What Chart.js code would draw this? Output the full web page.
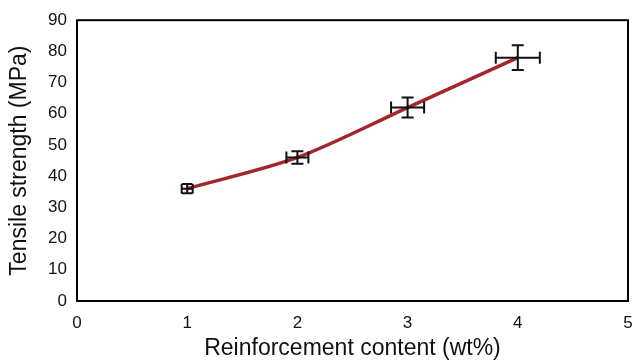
<!DOCTYPE html>
<html>
<head>
<meta charset="utf-8">
<script src="https://cdn.jsdelivr.net/npm/chart.js@4"></script>
<style>
  html, body { margin: 0; padding: 0; background: #fff; }
  #wrap { width: 632px; height: 362px; }
</style>
</head>
<body>
<div id="wrap"><canvas id="myChart" width="632" height="362"></canvas></div>
<script>
// data
var content = [1, 2, 3, 4];
var strength = [36, 46, 62, 78];
var contentErr = [0.05, 0.1, 0.15, 0.2];
var strengthErr = [1.5, 2, 3.2, 4];
var xTicks = [0, 1, 2, 3, 4, 5];
var yTicks = [0, 10, 20, 30, 40, 50, 60, 70, 80, 90];

var points = content.map(function (x, i) { return { x: x, y: strength[i] }; });

// error bars + frame round the plot
var errorBars = {
  id: 'errorBars',
  afterDatasetsDraw: function (chart) {
    var ctx = chart.ctx, xs = chart.scales.x, ys = chart.scales.y;
    var cap = 6;
    ctx.save();
    ctx.strokeStyle = '#111';
    ctx.lineWidth = 2;
    content.forEach(function (x, i) {
      var px = xs.getPixelForValue(x), py = ys.getPixelForValue(strength[i]);
      var x0 = xs.getPixelForValue(x - contentErr[i]), x1 = xs.getPixelForValue(x + contentErr[i]);
      var y0 = ys.getPixelForValue(strength[i] - strengthErr[i]), y1 = ys.getPixelForValue(strength[i] + strengthErr[i]);
      var c = i === 0 ? 5 : cap;
      ctx.beginPath();
      ctx.moveTo(x0, py); ctx.lineTo(x1, py);
      ctx.moveTo(x0, py - c); ctx.lineTo(x0, py + c);
      ctx.moveTo(x1, py - c); ctx.lineTo(x1, py + c);
      ctx.moveTo(px, y0); ctx.lineTo(px, y1);
      ctx.moveTo(px - c, y0); ctx.lineTo(px + c, y0);
      ctx.moveTo(px - c, y1); ctx.lineTo(px + c, y1);
      ctx.stroke();
    });
    var a = chart.chartArea;
    ctx.lineWidth = 2;
    ctx.strokeStyle = '#000';
    ctx.strokeRect(a.left, a.top, a.right - a.left, a.bottom - a.top);
    ctx.restore();
  }
};

new Chart('myChart', {
  type: 'scatter',
  data: {
    datasets: [{
      data: points,
      showLine: true,
      borderColor: '#a3262c',
      borderWidth: 3.5,
      pointRadius: 0,
      tension: 0.3,
      fill: false
    }]
  },
  options: {
    responsive: false,
    animation: false,
    layout: { padding: { top: 20, right: 0, left: 0, bottom: 0 } },
    plugins: { legend: { display: false }, tooltip: { enabled: false } },
    scales: {
      x: {
        type: 'linear', min: 0, max: 5,
        afterBuildTicks: function (s) { s.ticks = xTicks.map(function (v) { return { value: v }; }); },
        afterFit: function (s) { s.height = 61; s.paddingRight = 4; },
        grid: { display: false, drawTicks: false },
        border: { display: false },
        ticks: { color: '#111', padding: 12, font: { family: 'Liberation Sans', size: 17 } },
        title: { display: true, text: 'Reinforcement content (wt%)', color: '#111', padding: { top: 6, bottom: 0 }, font: { family: 'Liberation Sans', size: 23 } }
      },
      y: {
        min: 0, max: 90,
        afterBuildTicks: function (s) { s.ticks = yTicks.map(function (v) { return { value: v }; }); },
        afterFit: function (s) { s.width = 77; },
        grid: { display: false, drawTicks: false },
        border: { display: false },
        ticks: { color: '#111', padding: 10, font: { family: 'Liberation Sans', size: 17 } },
        title: { display: true, text: 'Tensile strength (MPa)', color: '#111', padding: { top: 6, bottom: 0 }, font: { family: 'Liberation Sans', size: 23 } }
      }
    }
  },
  plugins: [errorBars]
});
</script>
</body>
</html>
